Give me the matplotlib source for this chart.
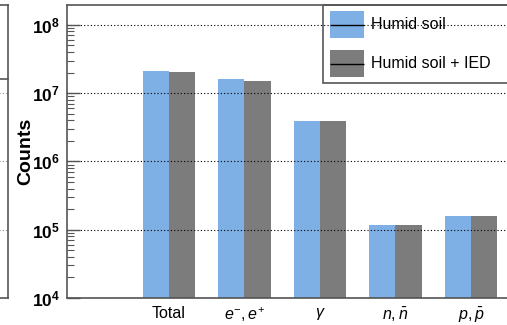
import matplotlib
matplotlib.use("Agg")
import matplotlib.pyplot as plt
from matplotlib.patches import Rectangle
from matplotlib.lines import Line2D
from matplotlib.transforms import Affine2D
from matplotlib.ticker import LogLocator, NullFormatter, FixedLocator
import numpy as np

plt.rcParams["font.family"] = ["Liberation Sans", "DejaVu Sans"]
plt.rcParams["mathtext.fontset"] = "custom"
plt.rcParams["mathtext.rm"] = "Liberation Sans"
plt.rcParams["mathtext.it"] = "Liberation Sans:italic"
plt.rcParams["mathtext.bf"] = "Liberation Sans:bold"

# ---- data ----
categories = ["Total", r"$e^{-}, e^{+}$", r"$\gamma$", r"$n, \bar{n}$", r"$p, \bar{p}$"]
humid_soil = [2.12e7, 1.60e7, 3.92e6, 1.17e5, 1.57e5]
humid_soil_ied = [2.05e7, 1.50e7, 3.92e6, 1.17e5, 1.57e5]
series_labels = ["Humid soil", "Humid soil + IED"]
ytick_values = [1e4, 1e5, 1e6, 1e7, 1e8]
ytick_labels = [r"$\mathbf{10^{4}}$", r"$\mathbf{10^{5}}$", r"$\mathbf{10^{6}}$",
                r"$\mathbf{10^{7}}$", r"$\mathbf{10^{8}}$"]

W, H = 507, 325
blue = "#7eb0e6"
gray = "#7c7c7c"
frame_col = "#555555"

fig = plt.figure(figsize=(W / 100, H / 100), dpi=100)

# pixel transform: origin top-left
px = Affine2D().scale(1 / W, -1 / H).translate(0, 1) + fig.transFigure


def ax_rect(x0, y0, x1, y1):
    return [x0 / W, 1 - y1 / H, (x1 - x0) / W, (y1 - y0) / H]


# neighbouring panel (only its right edge falls inside the figure)
axl = fig.add_axes(ax_rect(-200, 5, 8, 298))
axl.set_yscale("log")
axl.set_ylim(1e4, 1.95e8)
axl.set_xlim(0, 1)
axl.set_xticks([])
axl.set_yticks([])
axl.yaxis.set_minor_locator(FixedLocator([]))
axl.spines["left"].set_visible(False)
for s in ["right", "bottom", "top"]:
    axl.spines[s].set_color(frame_col)
    axl.spines[s].set_linewidth(1.2)
for v in [1e5, 1e6, 1e7]:
    axl.axhline(v, color="#888888", lw=0.8, ls=(0, (1, 2)))
# bottom edge of that panel's legend box
fig.add_artist(Line2D([-5, 8], [79, 79], transform=px, color=frame_col, lw=1.2))

# main panel
ax = fig.add_axes(ax_rect(67, 5, 520, 298))
ax.set_yscale("log")
ax.set_ylim(1e4, 1.95e8)
ax.set_xlim(0, 6)

pos = np.arange(1, len(categories) + 1)
bw = 0.35
ax.bar(pos, humid_soil, width=bw, align="edge", color=blue, lw=0, zorder=1)
ax.bar(pos + bw, humid_soil_ied, width=bw, align="edge", color=gray, lw=0, zorder=1)

ax.set_xticks(pos + bw)
ax.set_xticklabels(categories, fontsize=11.5)
ax.tick_params(axis="x", length=0, pad=5.5)

ax.yaxis.set_major_locator(FixedLocator(ytick_values))
ax.set_yticklabels(ytick_labels, fontsize=12.5)
ax.yaxis.set_minor_locator(LogLocator(base=10, subs=np.arange(2, 10)))
ax.yaxis.set_minor_formatter(NullFormatter())
ax.tick_params(axis="y", which="major", direction="in", length=9.5, width=1.0,
               color=frame_col, pad=5)
ax.tick_params(axis="y", which="minor", direction="in", length=5, width=0.8,
               color=frame_col)

ax.set_axisbelow(False)
ax.grid(axis="y", which="major", color="black", lw=0.8, ls=(0, (1, 2)), zorder=3)
for s in ax.spines.values():
    s.set_color(frame_col)
    s.set_linewidth(1.2)

fig.text(26 / W, 1 - 151 / H, "Counts", rotation=90, ha="center", va="center",
         fontsize=14, fontweight="bold")

# legend box
fig.add_artist(Rectangle((323, 5), 220, 78, transform=px, fill=False,
                         ec=frame_col, lw=1.2, clip_on=False))
for (y0, col, lab) in [(11, blue, series_labels[0]), (50, gray, series_labels[1])]:
    fig.add_artist(Rectangle((330, y0), 34, 27, transform=px, fc=col, lw=0))
    fig.add_artist(Line2D([330, 364], [y0 + 13.5, y0 + 13.5], transform=px,
                          color="black", lw=1.0, solid_capstyle="butt"))
    fig.text(371 / W, 1 - (y0 + 13.5) / H, lab, ha="left", va="center",
             fontsize=11.5)

fig.savefig("out.png", dpi=100)
